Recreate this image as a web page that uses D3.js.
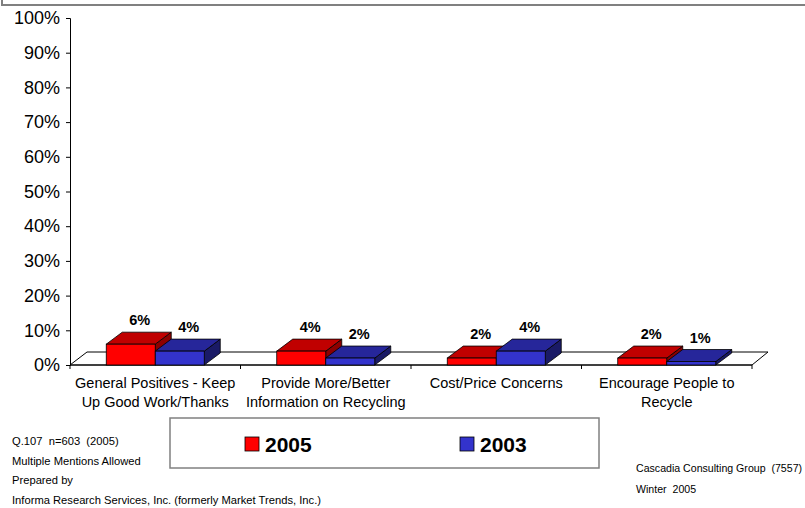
<!DOCTYPE html>
<html><head><meta charset="utf-8">
<script src="https://cdn.jsdelivr.net/npm/d3@7"></script>
<style>body{margin:0;background:#fff;} svg{display:block;font-family:Arial,"Liberation Sans",sans-serif;} text{white-space:pre;}</style>
</head><body>
<script>
const categories = [
  ["General Positives - Keep", "Up Good Work/Thanks"],
  ["Provide More/Better", "Information on Recycling"],
  ["Cost/Price Concerns"],
  ["Encourage People to", "Recycle"]
];
const seriesNames = ["2005", "2003"];
const values2005 = [6, 4, 2, 2];
const values2003 = [4, 2, 4, 1];
const labels2005 = ["6%", "4%", "2%", "2%"];
const labels2003 = ["4%", "2%", "4%", "1%"];
const yTicks = [0, 10, 20, 30, 40, 50, 60, 70, 80, 90, 100];
const footLeft = ["Q.107  n=603  (2005)", "Multiple Mentions Allowed", "Prepared by", "Informa Research Services, Inc. (formerly Market Trends, Inc.)"];
const footRight = ["Cascadia Consulting Group  (7557)", "Winter  2005"];

const W = 805, H = 508;
const svg = d3.select("body").append("svg").attr("width", W).attr("height", H);

// top frame remnant
svg.append("rect").attr("x", 2).attr("y", -20).attr("width", 830).attr("height", 25)
  .attr("fill", "none").attr("stroke", "#808080").attr("stroke-width", 2);

const x0 = 70, x1 = 752, yTop = 18, yBot = 365;
const DX = 16, DY = -12;
const y = d3.scaleLinear().domain([0, 100]).range([yBot, yTop]);
const xb = d3.scaleBand().domain(d3.range(categories.length)).range([x0, x1]);
const barW = 49;

// floor
const floor = d3.path();
floor.moveTo(x0, yBot); floor.lineTo(x0 + DX + 1, yBot + DY - 1); floor.lineTo(x1 + DX, yBot + DY - 1); floor.lineTo(x1, yBot); floor.closePath();
svg.append("path").attr("d", floor.toString()).attr("fill", "#fff").attr("stroke", "#000").attr("stroke-width", 1);

// y axis
const yAxis = d3.axisLeft(y).tickValues(yTicks).tickFormat(d => d + "%").tickSize(4).tickPadding(6);
const ga = svg.append("g").attr("transform", `translate(${x0},0)`).call(yAxis);
ga.select(".domain").attr("stroke", "#000").attr("stroke-width", 1);
ga.selectAll(".tick line").attr("stroke", "#000");
ga.selectAll(".tick text").attr("font-size", "18px").attr("fill", "#000").attr("font-family", "Arial, 'Liberation Sans', sans-serif");

// x axis baseline
svg.append("line").attr("x1", x0).attr("x2", x1).attr("y1", yBot).attr("y2", yBot).attr("stroke", "#000");
svg.selectAll(".xt").data(d3.range(categories.length + 1)).enter().append("line")
  .attr("x1", i => x0 + i * xb.bandwidth()).attr("x2", i => x0 + i * xb.bandwidth())
  .attr("y1", yBot).attr("y2", yBot + 4).attr("stroke", "#000");

const series = [
  { vals: values2005, labs: labels2005, off: -barW, front: "#FF0000", top: "#C00000", side: "#8C0000" },
  { vals: values2003, labs: labels2003, off: 0, front: "#3333CC", top: "#26269A", side: "#1A1A66" }
];

series.forEach(s => {
  const g = svg.append("g");
  s.vals.forEach((v, i) => {
    const cx = xb(i) + xb.bandwidth() / 2;
    const bx = cx + s.off, ty = y(v);
    g.append("path").attr("d", `M${bx + barW},${ty}L${bx + barW + DX},${ty + DY}L${bx + barW + DX},${yBot + DY}L${bx + barW},${yBot}Z`)
      .attr("fill", s.side).attr("stroke", "#000").attr("stroke-width", 0.8).attr("stroke-linejoin", "round");
    g.append("path").attr("d", `M${bx},${ty}L${bx + DX},${ty + DY}L${bx + barW + DX},${ty + DY}L${bx + barW},${ty}Z`)
      .attr("fill", s.top).attr("stroke", "#000").attr("stroke-width", 0.8).attr("stroke-linejoin", "round");
    g.append("rect").attr("x", bx).attr("y", ty).attr("width", barW).attr("height", yBot - ty)
      .attr("fill", s.front).attr("stroke", "#000").attr("stroke-width", 0.8);
    g.append("text").attr("x", bx + barW / 2 + DX / 2 + 1).attr("y", ty + DY - 7)
      .attr("text-anchor", "middle").attr("font-size", "14.5px").attr("font-weight", "bold").text(s.labs[i]);
  });
});

// category labels
categories.forEach((lines, i) => {
  const cx = xb(i) + xb.bandwidth() / 2;
  const t = svg.append("text").attr("text-anchor", "middle").attr("font-size", "14.5px").attr("fill", "#000");
  lines.forEach((l, j) => t.append("tspan").attr("x", cx).attr("y", 388 + j * 19).text(l));
});

// legend
svg.append("rect").attr("x", 170).attr("y", 418).attr("width", 429).attr("height", 50)
  .attr("fill", "#fff").attr("stroke", "#808080").attr("stroke-width", 1.5);
const legX = [245, 460];
series.forEach((s, i) => {
  svg.append("rect").attr("x", legX[i]).attr("y", 437).attr("width", 14).attr("height", 14)
    .attr("fill", s.front).attr("stroke", "#000").attr("stroke-width", 0.8);
  svg.append("text").attr("x", legX[i] + 20).attr("y", 451.5).attr("font-size", "21px").attr("font-weight", "bold").text(seriesNames[i]);
});

// footnotes
footLeft.forEach((t, i) => {
  svg.append("text").attr("x", 12).attr("y", 445 + i * 19.5).attr("font-size", "11.2px").attr("xml:space", "preserve").text(t);
});
footRight.forEach((t, i) => {
  svg.append("text").attr("x", 636).attr("y", 472 + i * 21).attr("font-size", "10.6px").attr("xml:space", "preserve").text(t);
});
</script>
</body></html>
